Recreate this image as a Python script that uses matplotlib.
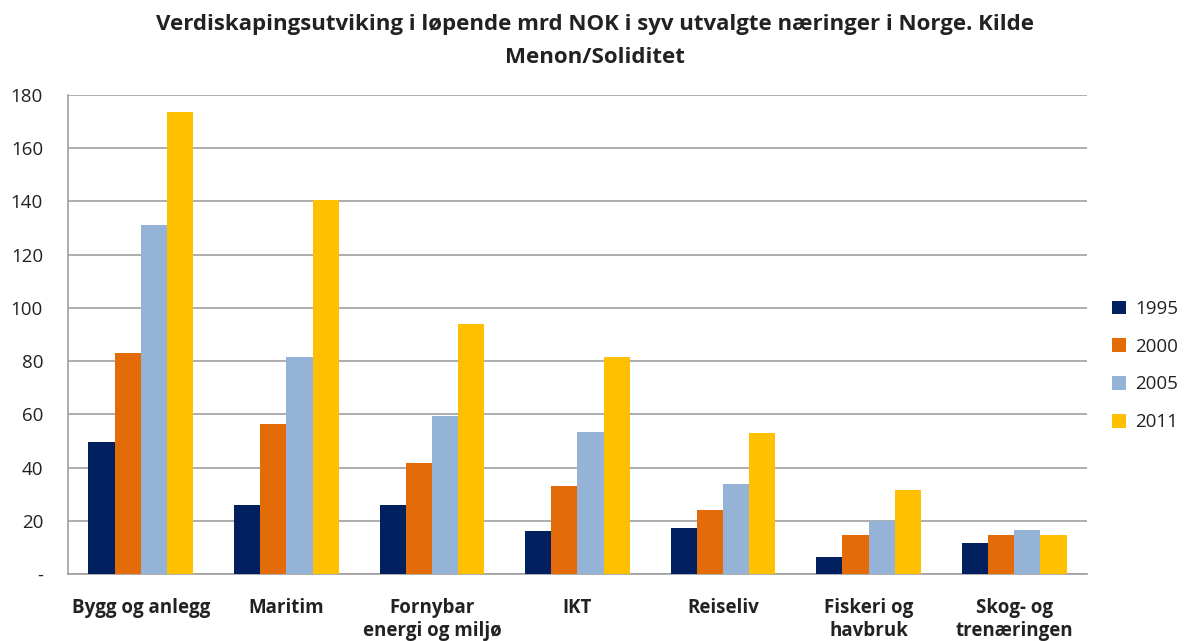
import matplotlib
matplotlib.use("Agg")
import matplotlib.pyplot as plt
import numpy as np

categories = ["Bygg og anlegg", "Maritim", "Fornybar\nenergi og miljø", "IKT",
              "Reiseliv", "Fiskeri og\nhavbruk", "Skog- og\ntrenæringen"]
years = ["1995", "2000", "2005", "2011"]
v1995 = [49.5, 26.0, 26.0, 16.1, 17.3, 6.4, 11.5]
v2000 = [82.9, 56.3, 41.6, 32.9, 23.9, 14.6, 14.5]
v2005 = [131.3, 81.4, 59.3, 53.3, 33.8, 20.0, 16.6]
v2011 = [173.6, 140.7, 93.8, 81.4, 53.0, 31.5, 14.6]
yticks = [0, 20, 40, 60, 80, 100, 120, 140, 160, 180]
ytick_labels = ["-", "20", "40", "60", "80", "100", "120", "140", "160", "180"]

colors = ["#002060", "#E36C09", "#95B3D7", "#FFC000"]
series = [v1995, v2000, v2005, v2011]

plt.rcParams['font.family'] = ['Open Sans', 'DejaVu Sans']

fig = plt.figure(figsize=(11.89, 6.41), dpi=100)
ax = fig.add_axes([0.0572, 0.1045, 0.857, 0.7473])

x = np.arange(len(categories))
w = 0.18
for i, (vals, c, lab) in enumerate(zip(series, colors, years)):
    ax.bar(x + (i - 1.5) * w, vals, width=w, color=c, label=lab, zorder=3)

ax.set_xlim(-0.5, len(categories) - 0.5)
ax.set_ylim(0, 180)
ax.set_yticks(yticks)
ax.set_yticklabels(ytick_labels, fontsize=13.5, color="#222222")
ax.set_xticks(x)
ax.set_xticklabels(categories, fontsize=13.5, fontweight="bold", color="#222222",
                   linespacing=1.25)
ax.tick_params(axis="both", length=0)
ax.tick_params(axis="x", pad=17)
ax.tick_params(axis="y", pad=18)
ax.grid(axis="y", color="#A0A0A0", linewidth=1.2, zorder=0)
for s in ["top", "right"]:
    ax.spines[s].set_visible(False)
ax.spines["left"].set_color("#A0A0A0")
ax.spines["bottom"].set_color("#A0A0A0")
ax.spines["left"].set_linewidth(1.2)
ax.spines["bottom"].set_linewidth(1.2)

ax.legend(loc="center left", bbox_to_anchor=(1.008, 0.435), frameon=False,
          fontsize=13.5, handlelength=0.75, handleheight=0.75, handletextpad=0.5,
          labelspacing=1.05, labelcolor="#222222")

fig.suptitle("Verdiskapingsutviking i løpende mrd NOK i syv utvalgte næringer i Norge. Kilde\nMenon/Soliditet",
             fontsize=16, fontweight="bold", color="#222222", y=0.978, linespacing=1.75)

fig.savefig("out.png", dpi=100)
